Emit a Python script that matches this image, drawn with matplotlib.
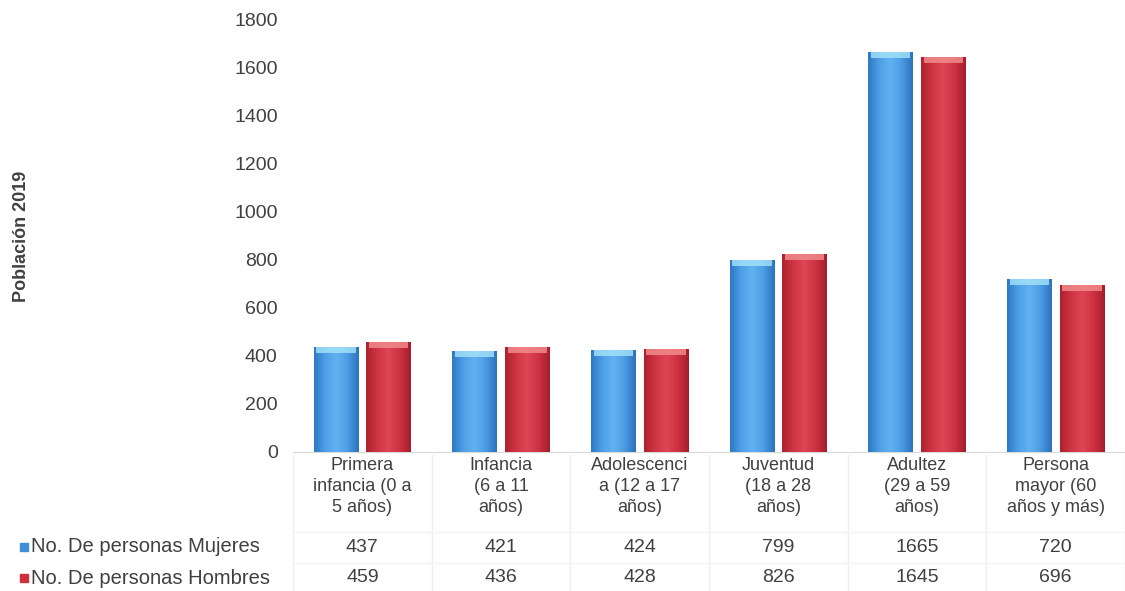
import numpy as np
import matplotlib
matplotlib.use("Agg")
import matplotlib.pyplot as plt
from matplotlib.colors import LinearSegmentedColormap
from matplotlib.patches import Rectangle
import matplotlib.transforms as mtransforms

plt.rcParams['font.family'] = ['Liberation Sans', 'DejaVu Sans']

categorias = ["Primera\ninfancia (0 a\n5 años)", "Infancia\n(6 a 11\naños)",
              "Adolescenci\na (12 a 17\naños)", "Juventud\n(18 a 28\naños)",
              "Adultez\n(29 a 59\naños)", "Persona\nmayor (60\naños y más)"]
mujeres = [437, 421, 424, 799, 1665, 720]
hombres = [459, 436, 428, 826, 1645, 696]
series = ["No. De personas Mujeres", "No. De personas Hombres"]
yticks = [0, 200, 400, 600, 800, 1000, 1200, 1400, 1600, 1800]

W, H = 1125, 591
fig = plt.figure(figsize=(W / 100, H / 100), dpi=100)
ax = fig.add_axes([293 / W, (H - 452) / H, 1 - 293 / W, (452 - 20) / H])

txt = '#404040'
cmap_azul = LinearSegmentedColormap.from_list('az', ['#2f78c4', '#4e9fe6', '#62b2f2', '#4c9ce4', '#2d73bc'])
cmap_rojo = LinearSegmentedColormap.from_list('ro', ['#ac2230', '#d03442', '#de4654', '#cf3242', '#a41e2c'])
cap_col = ['#a6e4fa', '#f39090']

x = np.arange(len(categorias))
ancho = 0.32
grad = np.linspace(0, 1, 64)[None, :]
for vals, off, cm, cap in [(mujeres, -0.19, cmap_azul, cap_col[0]), (hombres, 0.19, cmap_rojo, cap_col[1])]:
    bars = ax.bar(x + off, vals, ancho, color=cm(0.5), edgecolor='none', zorder=2)
    for b in bars:
        x0, w, h = b.get_x(), b.get_width(), b.get_height()
        im = ax.imshow(grad, extent=[x0, x0 + w, 0, h], aspect='auto', cmap=cm, zorder=3)
        im.set_clip_path(b)
        ax.add_patch(Rectangle((x0 + w * 0.06, h - 24), w * 0.88, 24, color=cap, alpha=0.8,
                               lw=0, zorder=4))

ax.set_xlim(-0.5, len(categorias) - 0.5)
ax.set_ylim(0, 1800)
ax.set_yticks(yticks)
ax.set_yticklabels([str(t) for t in yticks], fontsize=14, color=txt)
ax.tick_params(axis='y', length=0, pad=11)
ax.set_xticks([])
for s in ['top', 'right', 'left']:
    ax.spines[s].set_visible(False)
ax.spines['bottom'].set_color('#d9d9d9')
ax.set_ylabel('Población 2019', fontsize=13, fontweight='bold', color=txt, labelpad=0)
ax.yaxis.set_label_coords((30 - 293) / (W - 293), 0.5)

# tabla de datos
tr = mtransforms.blended_transform_factory(ax.transData, fig.transFigure)
for i, c in enumerate(categorias):
    ax.text(i, (H - 457) / H, c, transform=tr, ha='center', va='top', fontsize=13,
            color=txt, linespacing=1.3, clip_on=False)
    ax.text(i, (H - 547) / H, str(mujeres[i]), transform=tr, ha='center', va='center',
            fontsize=14, color=txt, clip_on=False)
    ax.text(i, (H - 578) / H, str(hombres[i]), transform=tr, ha='center', va='center',
            fontsize=14, color=txt, clip_on=False)
for b in np.arange(-0.5, len(categorias), 1.0):
    ax.plot([b, b], [(H - 455) / H, 0], transform=tr, color='#efefef', lw=1, clip_on=False)
for yy in [532, 563]:
    ax.plot([-0.5, len(categorias) - 0.5], [(H - yy) / H] * 2, transform=tr, color='#f4f4f4',
            lw=1, clip_on=False)

for j, (nombre, col) in enumerate(zip(series, ['#3d8fd9', '#d0303a'])):
    yy = (H - (547 + 31 * j)) / H
    fig.patches.append(Rectangle((20 / W, yy - 4 / H), 8 / W, 8 / H, color=col,
                                 transform=fig.transFigure, figure=fig))
    fig.text(31 / W, yy, nombre, ha='left', va='center', fontsize=14.5, color=txt)

fig.savefig('out.png', dpi=100, facecolor='white')
